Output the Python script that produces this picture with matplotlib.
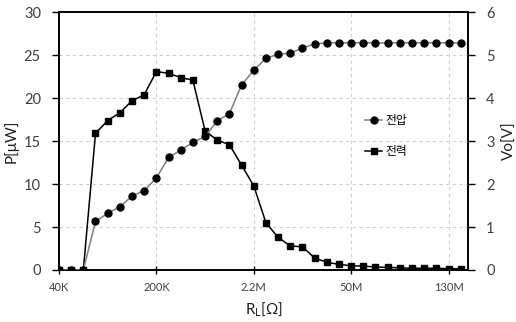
import matplotlib
matplotlib.use("Agg")
import matplotlib.pyplot as plt
import numpy as np

plt.rcParams['font.family'] = ['Lato', 'Noto Sans CJK KR', 'DejaVu Sans']
plt.rcParams['mathtext.fontset'] = 'custom'
plt.rcParams['mathtext.rm'] = 'Lato'

# x 위치 (범주형, 등간격)과 눈금 라벨
tick_idx = [0, 8, 16, 24, 32]
tick_labels = ["40K", "200K", "2.2M", "50M", "130M"]

# 전력 P [uW]
power = [0, 0, 0, 15.9, 17.4, 18.3, 19.7, 20.4, 23.1, 22.9, 22.4, 22.1,
         16.2, 15.1, 14.6, 12.2, 9.8, 5.5, 3.8, 2.8, 2.7, 1.4, 0.9, 0.65,
         0.5, 0.45, 0.35, 0.3, 0.25, 0.2, 0.2, 0.2, 0.15, 0.15]
# 전압 Vo [V]
voltage = [0, 0, 0, 1.13, 1.32, 1.47, 1.72, 1.85, 2.14, 2.62, 2.79, 2.97,
           3.11, 3.47, 3.64, 4.31, 4.65, 4.93, 5.02, 5.05, 5.17, 5.26, 5.29, 5.29,
           5.29, 5.29, 5.29, 5.29, 5.29, 5.29, 5.29, 5.29, 5.29, 5.29]

x = np.arange(len(power))

fig = plt.figure(figsize=(5.16, 3.22), dpi=100)
ax1 = fig.add_axes([0.1143, 0.1615, 0.7927, 0.8003])
ax2 = ax1.twinx()

# 격자
for y in [5, 10, 15, 20, 25]:
    ax1.axhline(y, color='#d0d0d0', lw=0.8, ls=(0, (3, 3)), zorder=0)
for t in tick_idx[1:]:
    ax1.axvline(t, color='#d0d0d0', lw=0.8, ls=(0, (3, 3)), zorder=0)

l_p, = ax1.plot(x, power, color='black', lw=1.1, marker='s', ms=5,
                mfc='black', mec='black', label='전력', zorder=3)
l_v, = ax2.plot(x, voltage, color='#7f7f7f', lw=1.1, marker='o', ms=5,
                mfc='black', mec='black', label='전압', zorder=3)

ax1.set_xlim(0, 33.6)
ax1.set_ylim(0, 30)
ax2.set_ylim(0, 6)
ax1.set_yticks(range(0, 31, 5))
ax2.set_yticks(range(0, 7))
ax1.set_xticks(tick_idx)
ax1.set_xticklabels(tick_labels, fontsize=8, color='#404040')

for ax in (ax1, ax2):
    for s in ax.spines.values():
        s.set_color('black')
        s.set_linewidth(1.2)

ax1.tick_params(axis='y', direction='out', length=5, width=1, labelsize=10.5,
                labelcolor='#404040', pad=8)
ax2.tick_params(axis='y', direction='out', length=5, width=1, labelsize=10.5,
                labelcolor='#404040', pad=8)
ax1.tick_params(axis='x', direction='inout', length=6, width=1, pad=6)

ax1.set_ylabel('P[μW]', fontsize=11, color='#202020', labelpad=4)
ax2.set_ylabel('Vo[V]', fontsize=11, color='#202020', labelpad=6)
ax1.set_xlabel(r'R$_\mathregular{L}$[Ω]', fontsize=11, color='#202020', labelpad=5)

ax2.legend(handles=[l_v, l_p], loc='center', bbox_to_anchor=(0.8, 0.52),
           frameon=False, fontsize=8.5, labelspacing=1.7, handlelength=1.4,
           handletextpad=0.3)

fig.savefig('out.png', dpi=100)
